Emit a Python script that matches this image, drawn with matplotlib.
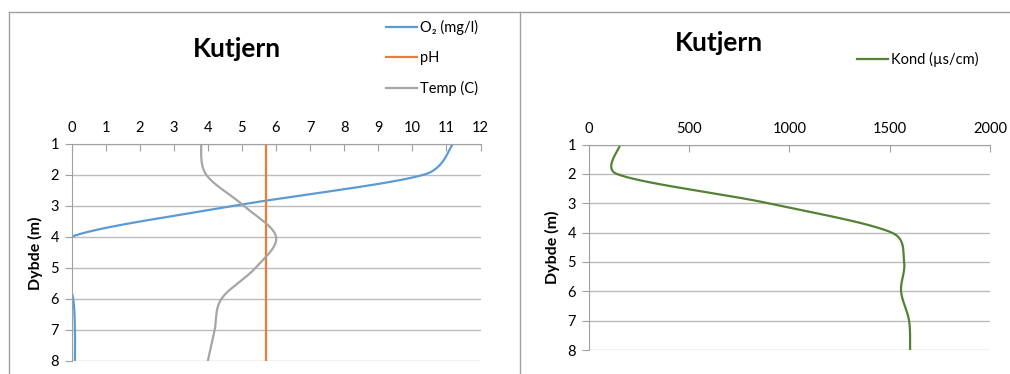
import numpy as np
import matplotlib
matplotlib.use("Agg")
import matplotlib.pyplot as plt
from matplotlib.lines import Line2D

plt.rcParams['font.family'] = ['Lato', 'DejaVu Sans']

# data (depth in m)
depth = [1, 2, 3, 4, 5, 6, 7, 8]
o2 = [11.2, 10.35, 4.8, 0.0, -0.16, 0.05, 0.1, 0.1]
ph = [5.7, 5.7, 5.7, 5.7, 5.7, 5.7, 5.7, 5.7]
temp = [3.8, 3.95, 5.05, 6.0, 5.4, 4.4, 4.2, 4.0]
kond = [158, 140, 895, 1510, 1572, 1557, 1597, 1602]

W, H = 1010, 374


def smooth(ax, xs, ys, n=40):
    # excel-like smoothed line, bezier built in screen space,
    # control arms capped at half the segment length
    p = ax.transData.transform(np.column_stack([xs, ys]).astype(float))
    out = [p[0]]
    for i in range(len(p) - 1):
        p0 = p[i - 1] if i > 0 else p[i]
        p1, p2 = p[i], p[i + 1]
        p3 = p[i + 2] if i + 2 < len(p) else p[i + 1]
        d12 = np.linalg.norm(p2 - p1)
        a = (p2 - p0) / 6
        b = (p3 - p1) / 6
        if np.linalg.norm(a) > d12 / 2:
            a = a * (d12 / 2) / np.linalg.norm(a)
        if np.linalg.norm(b) > d12 / 2:
            b = b * (d12 / 2) / np.linalg.norm(b)
        c1 = p1 + a
        c2 = p2 - b
        t = np.linspace(0, 1, n)[1:, None]
        seg = (1 - t) ** 3 * p1 + 3 * (1 - t) ** 2 * t * c1 + 3 * (1 - t) * t ** 2 * c2 + t ** 3 * p2
        out.extend(seg)
    out = ax.transData.inverted().transform(np.array(out))
    return out[:, 0], out[:, 1]


def px_axes(fig, x0, x1, ytop, ybot):
    return fig.add_axes([x0 / W, 1 - ybot / H, (x1 - x0) / W, (ybot - ytop) / H])


def style(ax, xmax, step):
    ax.set_ylim(8, 1)
    ax.set_xlim(0, xmax)
    ax.set_yticks(depth)
    ax.set_xticks(np.arange(0, xmax + 1, step))
    ax.xaxis.tick_top()
    ax.tick_params(axis='x', direction='in', length=5, color='#a0a0a0', labelsize=10.5, pad=6)
    ax.tick_params(axis='y', direction='out', length=5, color='#a0a0a0', labelsize=10.5, pad=4)
    for s in ['right', 'bottom']:
        ax.spines[s].set_visible(False)
    for s in ['top', 'left']:
        ax.spines[s].set_color('#a0a0a0')
    ax.grid(axis='y', color='#bcbcbc', linewidth=1)
    ax.set_axisbelow(True)


fig = plt.figure(figsize=(W / 100, H / 100), dpi=100)

# left chart
ax1 = px_axes(fig, 71.5, 480.5, 143.5, 361)
style(ax1, 12, 1)
x, y = smooth(ax1, o2, depth)
l1, = ax1.plot(x, y, color='#5b9bd5', lw=1.6, label='O₂ (mg/l)')
l2, = ax1.plot(ph, depth, color='#ed7d31', lw=1.6, label='pH')
x, y = smooth(ax1, temp, depth)
l3, = ax1.plot(x, y, color='#a5a5a5', lw=1.6, label='Temp (C)')

fig.text(237 / W, 1 - 49 / H, 'Kutjern', fontsize=19, fontweight='bold', ha='center', va='center')
fig.text(35 / W, 1 - 253 / H, 'Dybde (m)', fontsize=11.5, fontweight='bold', rotation=90, ha='center', va='center')
fig.legend(handles=[l1, l2, l3], loc='upper left', bbox_to_anchor=(386 / W, 1 - 20 / H),
           frameon=False, fontsize=10.5, borderpad=0, borderaxespad=0, handlelength=2.1,
           handletextpad=0.2, labelspacing=1.1)

# right chart
ax2 = px_axes(fig, 588.5, 990, 144.5, 350)
style(ax2, 2000, 500)
x, y = smooth(ax2, kond, depth)
l4, = ax2.plot(x, y, color='#548235', lw=1.6, label='Kond (µs/cm)')

fig.text(719 / W, 1 - 43 / H, 'Kutjern', fontsize=19, fontweight='bold', ha='center', va='center')
fig.text(552 / W, 1 - 247 / H, 'Dybde (m)', fontsize=11.5, fontweight='bold', rotation=90, ha='center', va='center')
fig.legend(handles=[l4], loc='upper left', bbox_to_anchor=(857 / W, 1 - 52 / H),
           frameon=False, fontsize=10.5, borderpad=0, borderaxespad=0, handlelength=2.1,
           handletextpad=0.2)

# chart borders
for xs, ys in [([9, W], [12, 12]), ([9, 9], [12, H]), ([520, 520], [12, H])]:
    fig.add_artist(Line2D([v / W for v in xs], [1 - v / H for v in ys], color='#a0a0a0', lw=1))

fig.savefig('out.png', dpi=100)
